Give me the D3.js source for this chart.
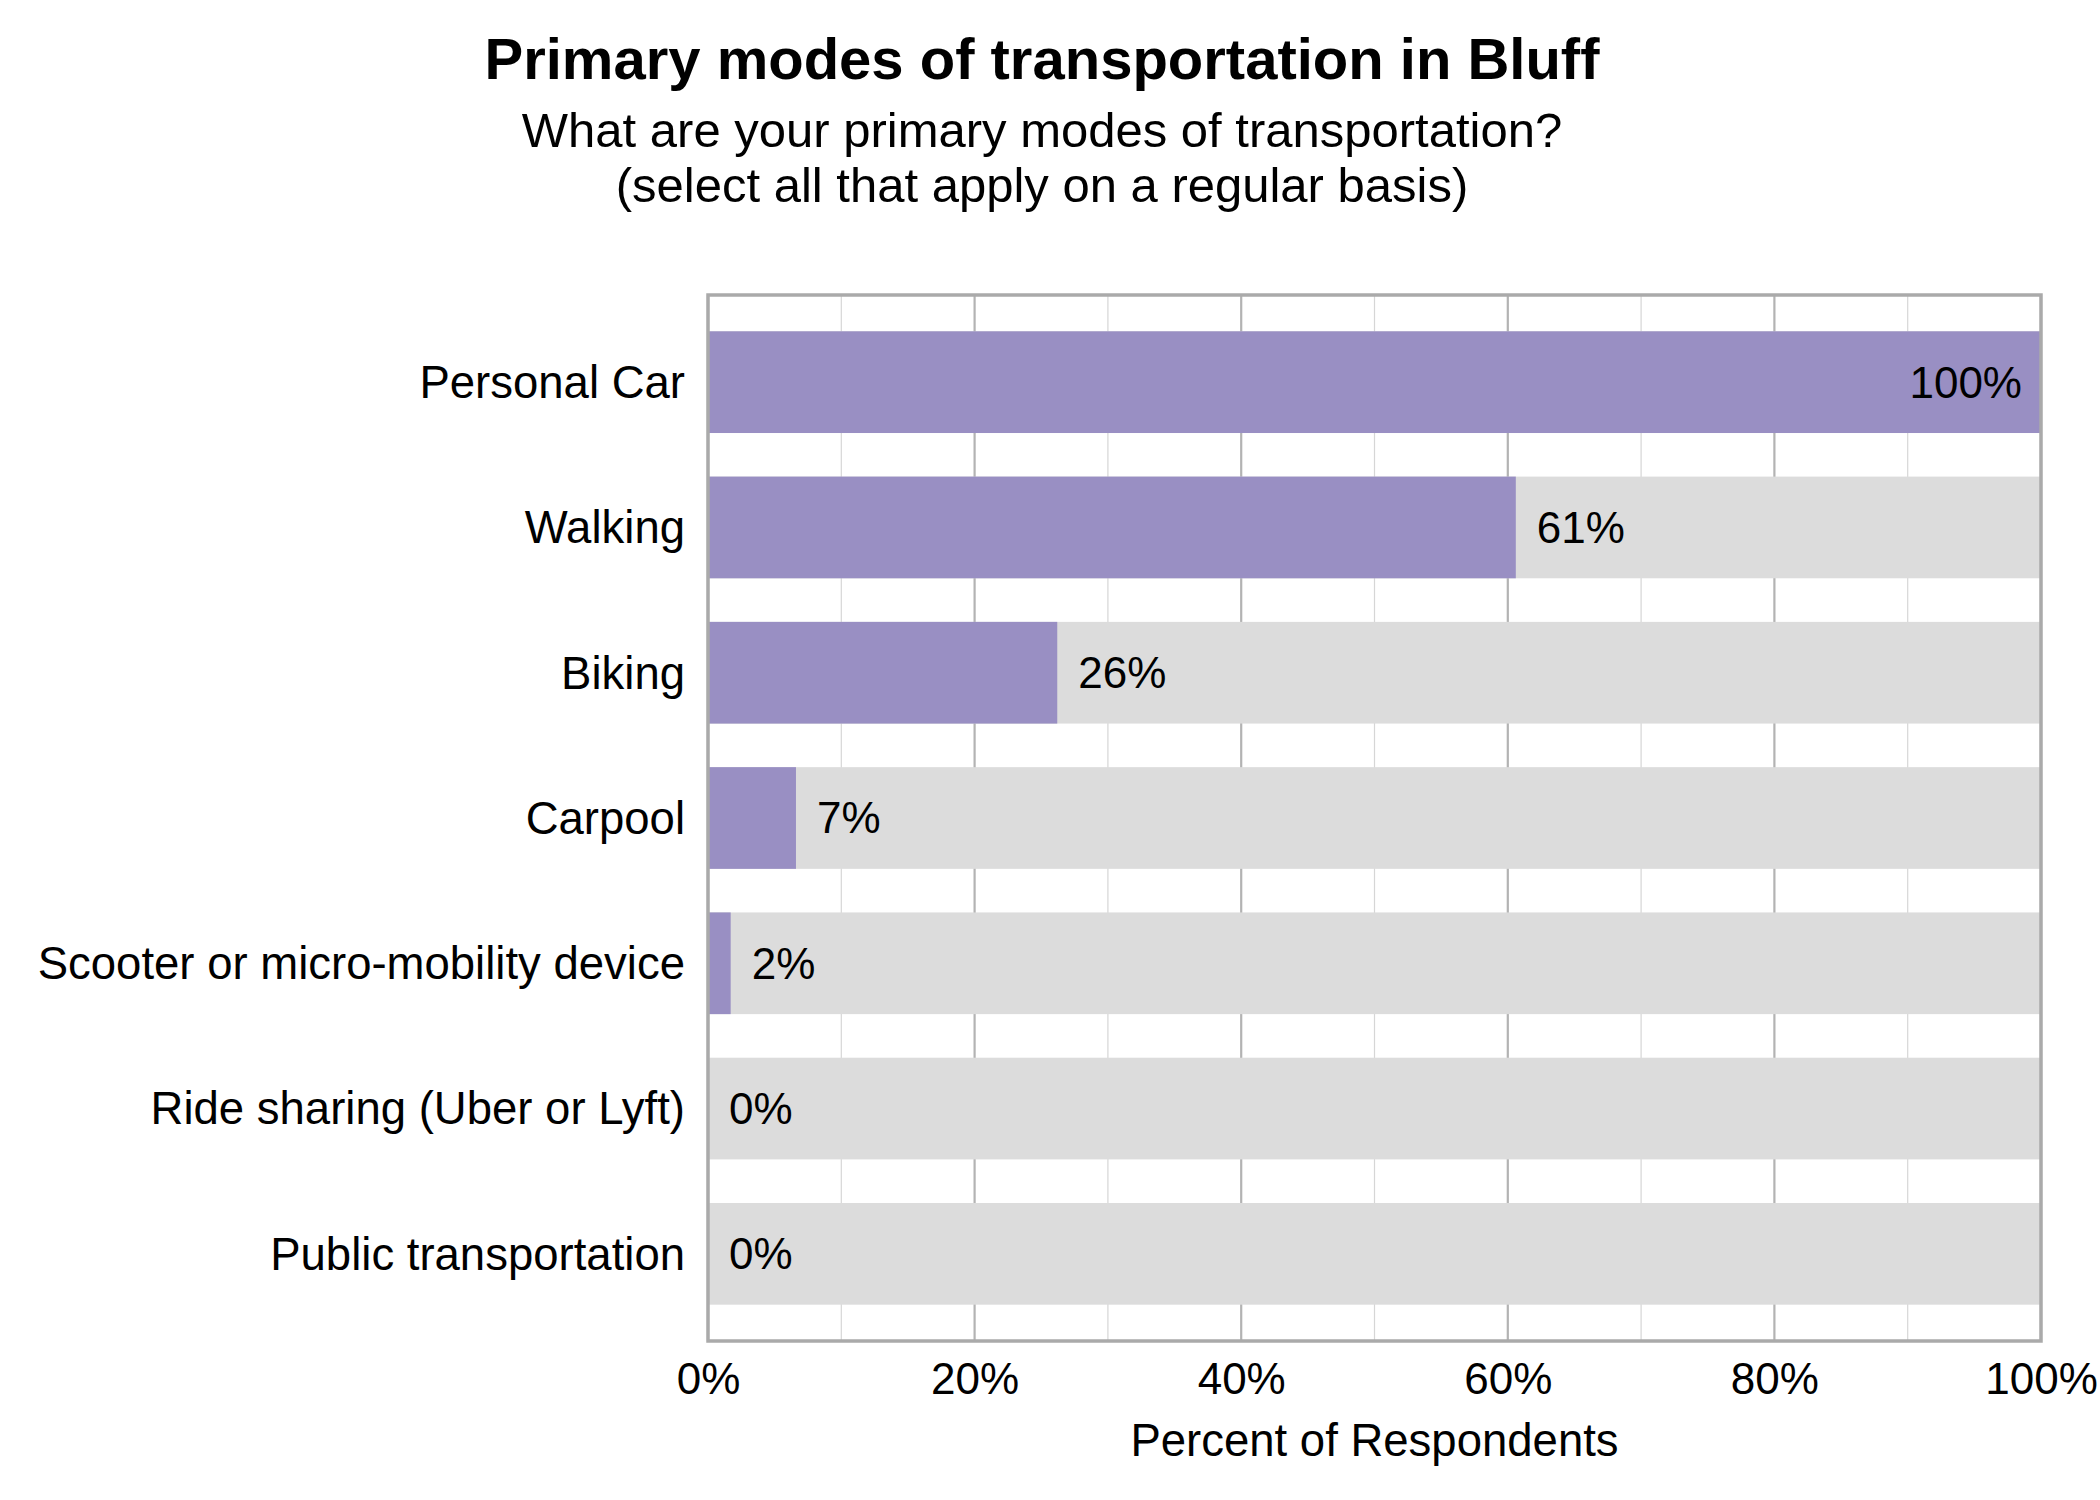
<!DOCTYPE html>
<html>
<head>
<meta charset="utf-8">
<script src="https://cdn.jsdelivr.net/npm/d3@7"></script>
<style>
  body { margin: 0; background: #fff; }
  text { font-family: "Liberation Sans", Arial, sans-serif; fill: #000; }
</style>
</head>
<body>
<div class="chart"></div>
<script>
// chart data
var modes   = ["Personal Car", "Walking", "Biking", "Carpool",
               "Scooter or micro-mobility device", "Ride sharing (Uber or Lyft)",
               "Public transportation"];
var percent = [100, 60.6, 26.2, 6.6, 1.7, 0, 0];
var labels  = ["100%", "61%", "26%", "7%", "2%", "0%", "0%"];
var xTicks  = [0, 20, 40, 60, 80, 100];
var xMinor  = [10, 30, 50, 70, 90];

var title     = "Primary modes of transportation in Bluff";
var subtitle  = ["What are your primary modes of transportation?",
                 "(select all that apply on a regular basis)"];
var axisTitle = "Percent of Respondents";

var data = modes.map((m, i) => ({mode: m, value: percent[i], label: labels[i]}));

var   svg = d3.select(".chart").append("svg").attr("width", 2100).attr("height", 1500),
      margin  = {top: 295, right: 59, bottom: 159, left: 708},
      width   = +svg.attr("width")  - margin.left - margin.right,
      height  = +svg.attr("height") - margin.top  - margin.bottom,
      x       = d3.scaleLinear().domain([0, 100]).range([0, width]),
      y       = d3.scaleBand().domain(modes).range([0, height])
                  .paddingInner(0.3).paddingOuter(0.25),
      g       = svg.append("g")
                   .attr("transform", `translate(${margin.left},${margin.top})`);

svg.append("rect").attr("width", 2100).attr("height", 1500).attr("fill", "#fff").lower();

// titles
svg.append("text")
    .attr("x", 1042).attr("y", 79)
    .attr("text-anchor", "middle")
    .style("font-size", "58px").style("font-weight", "bold")
    .text(title);

svg.selectAll(".subtitle")
  .data(subtitle)
  .enter().append("text")
    .attr("class", "subtitle")
    .attr("x", 1042).attr("y", (d, i) => 147 + i * 55)
    .attr("text-anchor", "middle")
    .style("font-size", "49px")
    .text(d => d);

// grid lines, minor then major
g.selectAll(".minor")
  .data(xMinor)
  .enter().append("line")
    .attr("class", "minor")
    .attr("x1", d => x(d)).attr("x2", d => x(d))
    .attr("y1", 0).attr("y2", height)
    .attr("stroke", "#d6d6d6").attr("stroke-width", 1.2);

g.selectAll(".major")
  .data(xTicks)
  .enter().append("line")
    .attr("class", "major")
    .attr("x1", d => x(d)).attr("x2", d => x(d))
    .attr("y1", 0).attr("y2", height)
    .attr("stroke", "#b3b3b3").attr("stroke-width", 2.2);

// grey background bars at 100%
g.selectAll(".bg")
  .data(data)
  .enter().append("rect")
    .attr("class", "bg")
    .attr("x", x(0))
    .attr("y", d => y(d.mode))
    .attr("width", x(100) - x(0))
    .attr("height", y.bandwidth())
    .attr("fill", "#dcdcdc");

// value bars
g.selectAll(".bar")
  .data(data)
  .enter().append("rect")
    .attr("class", "bar")
    .attr("x", x(0))
    .attr("y", d => y(d.mode))
    .attr("width", d => x(d.value) - x(0))
    .attr("height", y.bandwidth())
    .attr("fill", "#998fc3");

// value labels, inside the bar when it is full
g.selectAll(".vlabel")
  .data(data)
  .enter().append("text")
    .attr("class", "vlabel")
    .attr("x", d => d.value >= 90 ? x(d.value) - 19 : x(d.value) + 21)
    .attr("y", d => y(d.mode) + y.bandwidth() / 2)
    .attr("dy", "0.35em")
    .attr("text-anchor", d => d.value >= 90 ? "end" : "start")
    .style("font-size", "44px")
    .text(d => d.label);

// panel border
g.append("rect")
    .attr("x", 0).attr("y", 0)
    .attr("width", width).attr("height", height)
    .attr("fill", "none")
    .attr("stroke", "#aaaaaa").attr("stroke-width", 3.5);

// axes
var yAxis = g.append("g")
    .attr("class", "axis axis-y")
    .call(d3.axisLeft(y).tickSize(0).tickPadding(23));
yAxis.select(".domain").remove();
yAxis.selectAll("text").style("font-size", "45.5px").attr("dy", "0.35em");

var xAxis = g.append("g")
    .attr("class", "axis axis-x")
    .attr("transform", `translate(0,${height})`)
    .call(d3.axisBottom(x).tickValues(xTicks).tickSize(0).tickPadding(22)
            .tickFormat(d => d + "%"));
xAxis.select(".domain").remove();
xAxis.selectAll("text").style("font-size", "44px").attr("dy", "0.71em");

svg.append("text")
    .attr("x", margin.left + width / 2)
    .attr("y", 1456)
    .attr("text-anchor", "middle")
    .style("font-size", "45.5px")
    .text(axisTitle);
</script>
</body>
</html>
